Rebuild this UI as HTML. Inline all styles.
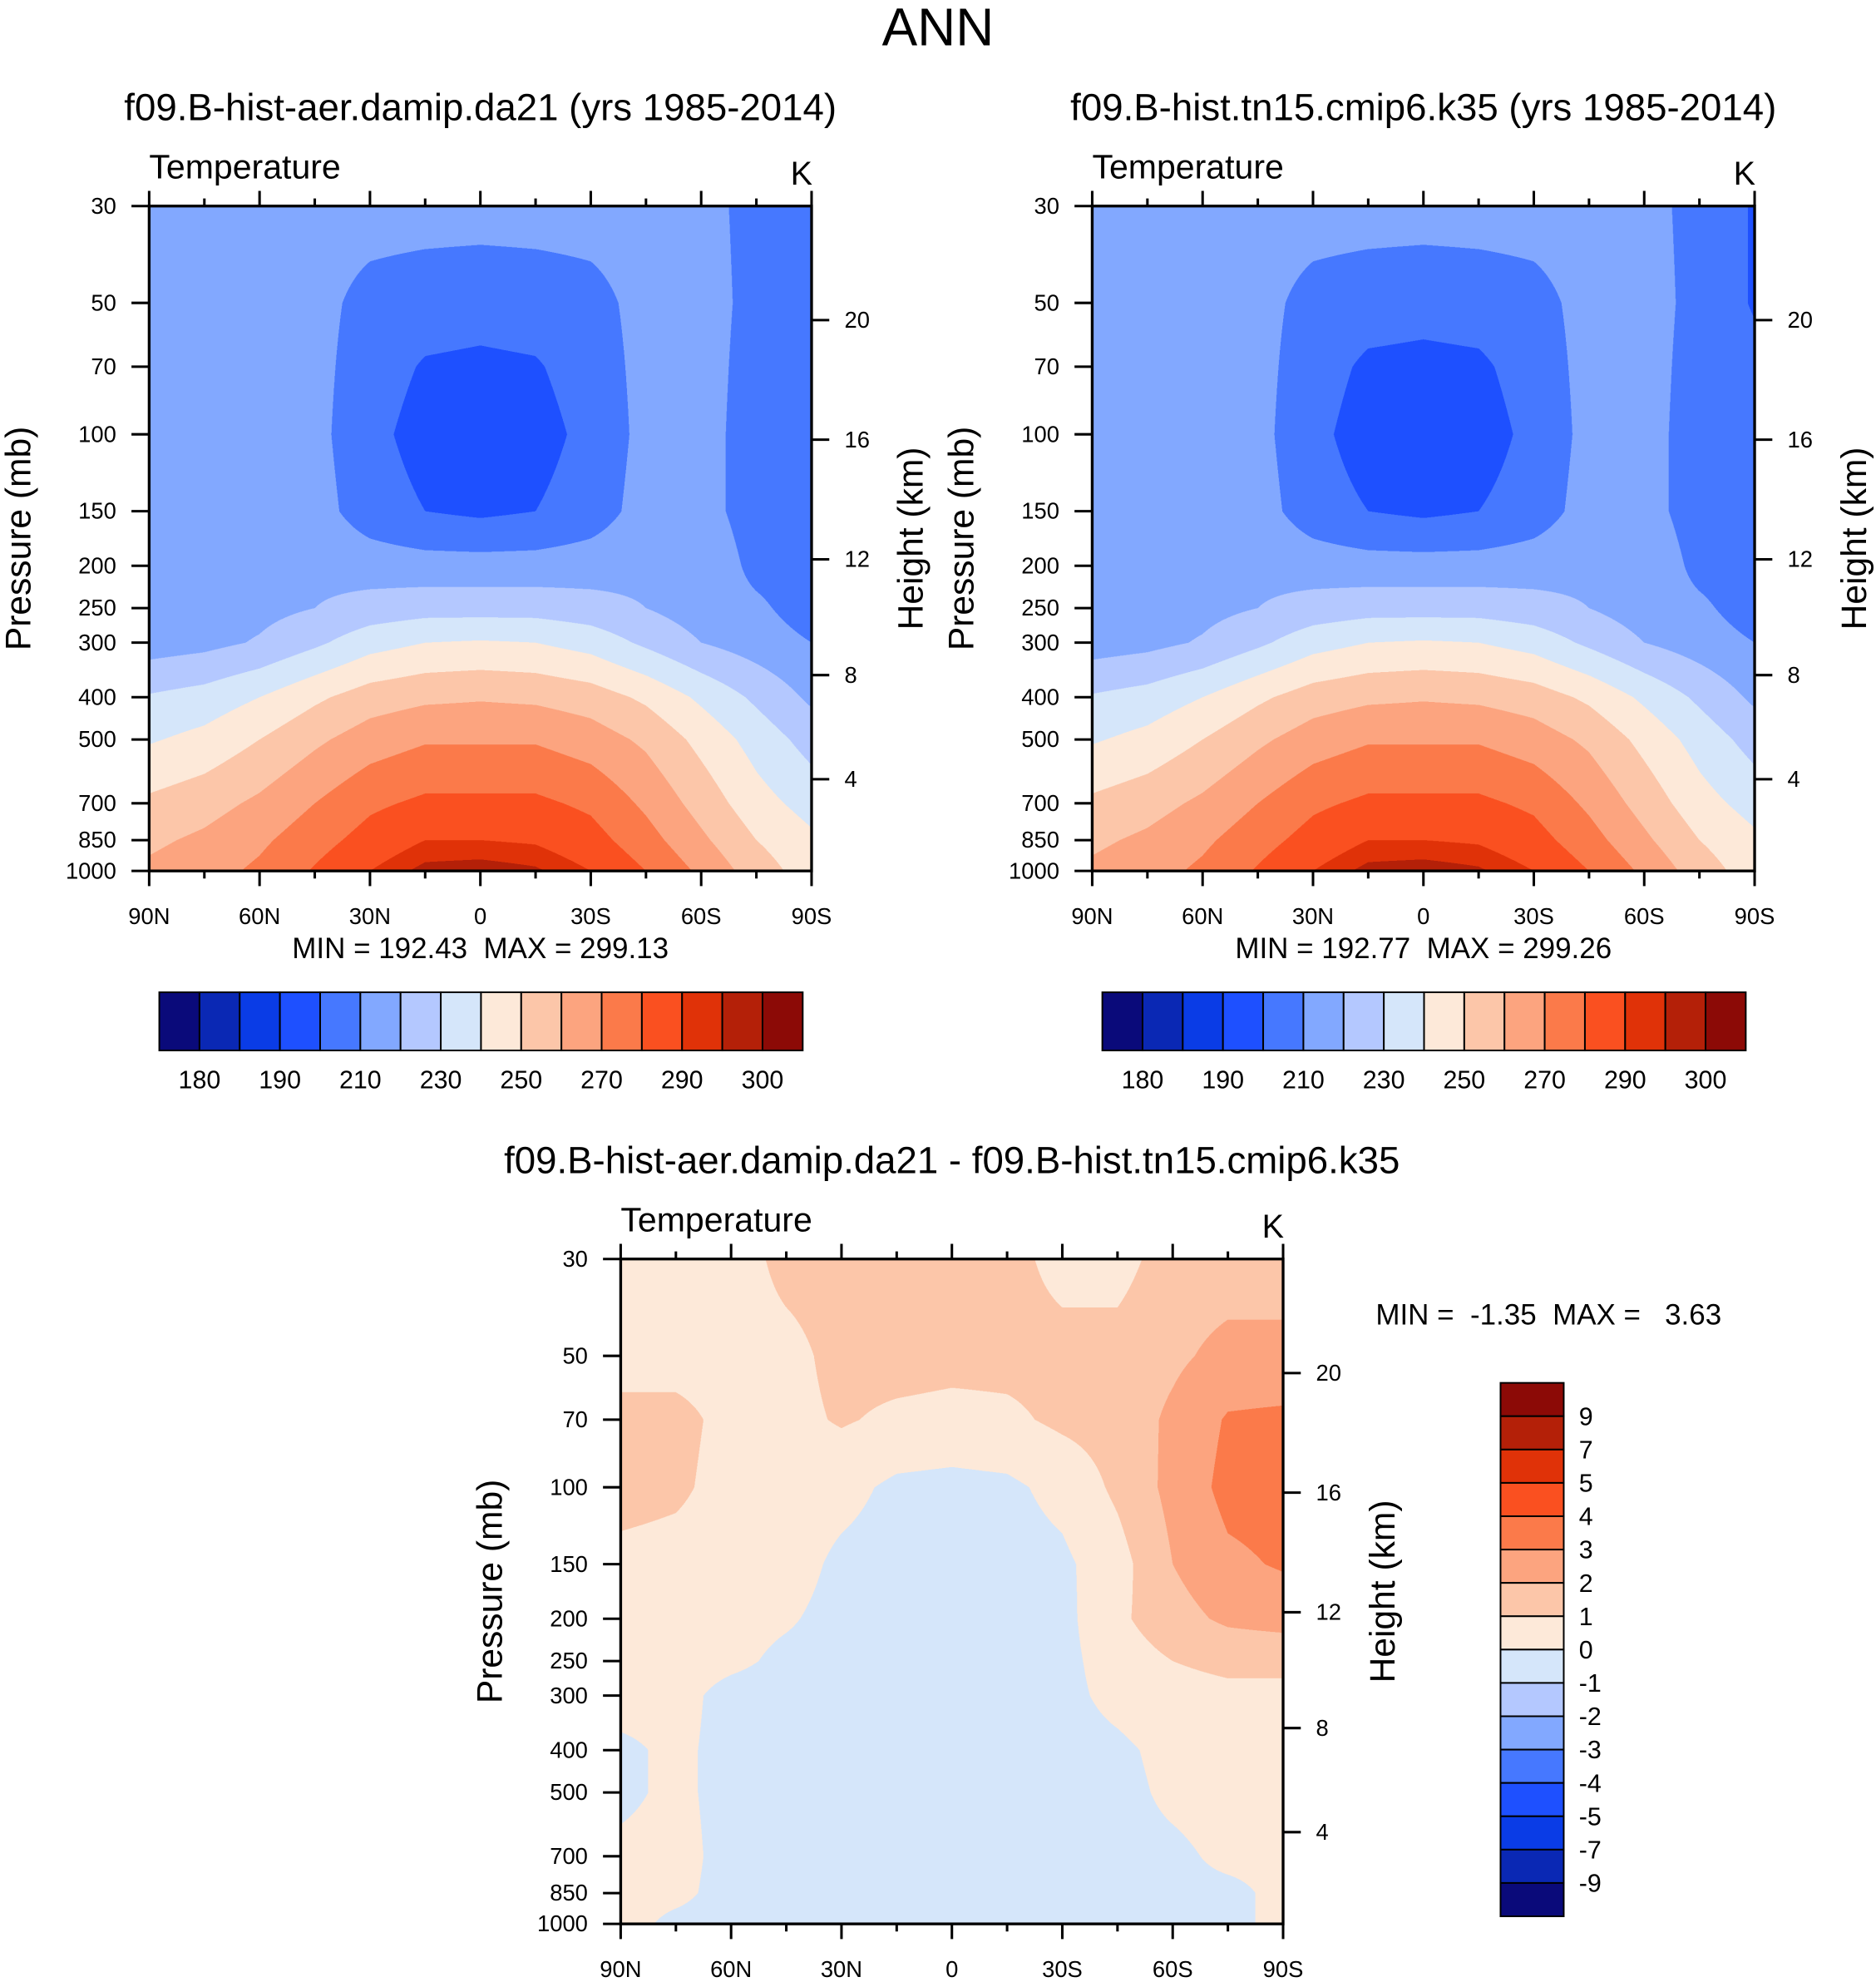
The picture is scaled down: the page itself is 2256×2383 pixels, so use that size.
<!DOCTYPE html>
<html><head><meta charset="utf-8">
<style>
html,body{margin:0;padding:0;background:#fff;width:2256px;height:2383px;overflow:hidden}
#root{position:absolute;left:0;top:0;width:1484px;height:1568px;transform:scale(1.5202,1.5198);transform-origin:0 0;font-family:"Liberation Sans",sans-serif}
canvas{position:absolute}
svg{position:absolute;left:0;top:0}
text{font-family:"Liberation Sans",sans-serif;fill:#000;white-space:pre}
</style></head>
<body>
<div id="root">
<canvas id="c1"></canvas>
<canvas id="c2"></canvas>
<canvas id="c3"></canvas>
<svg id="svg" width="1484" height="1568" viewBox="0 0 1484 1568"></svg>
</div>
<script>
// ---- data ----
const lats = [90,75,60,45,30,15,0,-15,-30,-45,-60,-75,-90];
const pres = [30,50,70,100,150,200,250,300,400,500,700,850,1000];
const tempA = [
[214,214,214,214,214,214,214,214,214,214,213,207,206],
[216,216,216,213,207,205,204,205,207,213,214,207,206],
[217,217,217,213,205,199,198,199,205,213,214,206,205],
[218,218,218,213,203,196,194,196,203,213,214,205,203],
[218,218,218,214,205,200,198,200,205,214,214,205,202],
[218,218,218,217,215,214,214,214,215,217,218,207,204],
[214,215,217,220,224,226,226,226,224,220,215,212,205],
[215,217,221,228,236,240,241,240,236,228,220,215,210],
[231,234,240,248,255,258,259,258,255,248,238,228,218],
[239,243,250,258,265,269,269,269,265,258,247,236,226],
[252,256,262,270,278,282,282,282,278,268,256,244,236],
[258,262,268,276,284,290,290,289,284,274,262,250,242],
[262,266,272,281,290,297,298,296,290,280,268,255,245]];
const tempB = [
[214,214,214,214,214,214,214,214,214,214,213,207,199],
[216,216,216,213,207,205,204,205,207,213,214,207,199],
[217,217,217,213,205,198,197,198,205,213,214,206,203],
[218,218,218,213,203,195,193,195,203,213,214,205,203],
[218,218,218,214,205,200,198,200,205,214,214,205,202],
[218,218,218,217,215,214,214,214,215,217,218,207,204],
[214,215,217,220,224,226,226,226,224,220,215,212,205],
[215,217,221,228,236,240,241,240,236,228,220,215,210],
[231,234,240,248,255,258,259,258,255,248,238,228,218],
[239,243,250,258,265,269,269,269,265,258,247,236,226],
[252,256,262,270,278,282,282,282,278,268,256,244,236],
[258,262,268,276,284,290,290,289,284,274,262,250,242],
[262,266,272,281,290,297,298,296,290,280,268,255,245]];
const diff = [
[0.5,0.5,0.5,1.3,1.4,1.4,1.4,1.3,0.7,0.6,1.5,1.5,1.5],
[0.6,0.6,0.6,0.7,1.3,1.4,1.3,1.3,1.3,1.4,1.8,2.3,2.3],
[1.3,1.3,0.7,0.7,1.1,0.8,0.7,0.8,1.2,1.4,2.2,3.1,3.2],
[1.4,1.2,0.6,0.5,0.3,-0.2,-0.3,-0.2,0.3,1.2,2.3,3.3,3.4],
[0.7,0.6,0.5,0.4,-0.2,-0.4,-0.4,-0.4,-0.2,0.6,2.0,2.8,3.1],
[0.4,0.4,0.3,0.1,-0.3,-0.4,-0.4,-0.4,-0.3,0.8,1.6,2.2,2.4],
[0.5,0.4,0.2,-0.2,-0.3,-0.4,-0.4,-0.4,-0.3,0.5,1.0,1.2,1.2],
[0.4,0.3,-0.3,-0.4,-0.4,-0.4,-0.4,-0.4,-0.3,0.3,0.7,0.8,0.8],
[-0.2,0.2,-0.3,-0.4,-0.4,-0.4,-0.4,-0.4,-0.4,-0.2,0.3,0.5,0.5],
[-0.2,0.2,-0.3,-0.4,-0.4,-0.4,-0.4,-0.4,-0.4,-0.3,0.2,0.4,0.3],
[0.2,0.3,-0.3,-0.4,-0.4,-0.4,-0.4,-0.4,-0.4,-0.3,-0.2,0.2,0.2],
[0.3,0.2,-0.3,-0.4,-0.4,-0.4,-0.4,-0.4,-0.4,-0.3,-0.2,-0.2,0.2],
[0.3,-0.2,-0.3,-0.4,-0.4,-0.4,-0.4,-0.4,-0.4,-0.3,-0.3,-0.2,0.2]];
const tLevels = [180,185,190,200,210,220,230,240,250,260,270,280,290,295,300];
const tLabels = ["180","190","210","230","250","270","290","300"];
const dLevels = [-9,-7,-5,-4,-3,-2,-1,0,1,2,3,4,5,7,9];
const palette = ["#0a0a7a","#0a28b4","#0a3ce6","#1e50ff","#4678ff","#82a8ff","#b4c8ff","#d5e6fa",
                 "#fde9d9","#fcc6a9","#fca47f","#fb7a4a","#fa5020","#e03208","#b42008","#8c0a06"];
const pTicks = [30,50,70,100,150,200,250,300,400,500,700,850,1000];
const hTicks = [4,8,12,16,20];
const latTicks = [90,60,30,0,-30,-60,-90];
const latLabels = ["90N","60N","30N","0","30S","60S","90S"];

// ---- helpers ----
const NS="http://www.w3.org/2000/svg";
const svg=document.getElementById('svg');
function el(tag,attrs,parent){const e=document.createElementNS(NS,tag);for(const k in attrs)e.setAttribute(k,attrs[k]);(parent||svg).appendChild(e);return e;}
function txt(s,x,y,size,anchor,name,extra){const t=el('text',Object.assign({x:x,y:y,'font-size':size,'text-anchor':anchor||'middle'},extra||{}));t.textContent=s;return t;}
function rgb(h){return [parseInt(h.slice(1,3),16),parseInt(h.slice(3,5),16),parseInt(h.slice(5,7),16)];}
const palRGB=palette.map(rgb);
function colorIdx(v,levels){for(let i=0;i<levels.length;i++){if(v<levels[i])return i;}return levels.length;}
function pToHeightP(z){return z<11?1013.25*Math.pow(1-0.0065*z*1000/288.15,5.2559):226.32*Math.exp(-(z-11)/6.3416);}

function drawPanel(cid,X,Y,W,H,grid,levels,title,name){
  const yOfP=p=>Y+H*Math.log10(p/30)/Math.log10(1000/30);
  const xOfLat=l=>X+W*(90-l)/180;
  const c=document.getElementById(cid);const R=3;
  c.style.left=X+'px';c.style.top=Y+'px';c.style.width=W+'px';c.style.height=H+'px';
  c.width=W*R;c.height=H*R;
  const ctx=c.getContext('2d');const img=ctx.createImageData(c.width,c.height);
  const lp=pres.map(p=>Math.log(p));
  for(let j=0;j<c.height;j++){
    const p=30*Math.pow(1000/30,(j+0.5)/c.height);const l=Math.log(p);
    let k=0;while(k<lp.length-2&&l>lp[k+1])k++;
    const fy=Math.min(1,Math.max(0,(l-lp[k])/(lp[k+1]-lp[k])));
    for(let i=0;i<c.width;i++){
      const lat=90-180*(i+0.5)/c.width;const fi=(90-lat)/15;
      let m=Math.min(lats.length-2,Math.floor(fi));const fx=fi-m;
      const v=(grid[k][m]*(1-fx)+grid[k][m+1]*fx)*(1-fy)+(grid[k+1][m]*(1-fx)+grid[k+1][m+1]*fx)*fy;
      const col=palRGB[colorIdx(v,levels)];const o=(j*c.width+i)*4;
      img.data[o]=col[0];img.data[o+1]=col[1];img.data[o+2]=col[2];img.data[o+3]=255;
    }
  }
  ctx.putImageData(img,0,0);
  const g=el('g',{});
  const fr=el('rect',{x:X,y:Y,width:W,height:H,fill:'none',stroke:'#000','stroke-width':2.2},g);
  
  for(let l=90;l>=-90;l-=15){const x=xOfLat(l);const major=(l%30===0);const len=major?12:6;
    el('line',{x1:x,y1:Y,x2:x,y2:Y-len,stroke:'#000','stroke-width':2},g);
    el('line',{x1:x,y1:Y+H,x2:x,y2:Y+H+len,stroke:'#000','stroke-width':2},g);}
  latTicks.forEach((l,i)=>{txt(latLabels[i],xOfLat(l),Y+H+42,18,'middle','x-tick-label');});
  pTicks.forEach(p=>{const y=yOfP(p);el('line',{x1:X,y1:y,x2:X-14,y2:y,stroke:'#000','stroke-width':2},g);
    txt(String(p),X-26,y+6,18,'end','y-tick-label');});
  hTicks.forEach(z=>{const y=yOfP(pToHeightP(z));el('line',{x1:X+W,y1:y,x2:X+W+14,y2:y,stroke:'#000','stroke-width':2},g);
    txt(String(z),X+W+26,y+6,18,'start','height-tick-label');});
  txt('Temperature',X,Y-22,27,'start','variable-label');
  txt('K',X+W-8,Y-17,26,'middle','units-label');
  txt('Pressure (mb)',0,0,28,'middle','y-axis-title',{transform:`translate(${X-94},${Y+H/2}) rotate(-90)`});
  txt('Height (km)',0,0,28,'middle','right-axis-title',{transform:`translate(${X+W+88},${Y+H/2}) rotate(-90)`});
  txt(title,X+W/2,Y-68,30,'middle','panel-title');
}
function hColorbar(X,Y,W,H,name){
  const g=el('g',{});
  const n=palette.length;const bw=W/n;
  palette.forEach((c,i)=>{const r=el('rect',{x:X+i*bw,y:Y,width:bw,height:H,fill:c,stroke:'#000','stroke-width':1.3},g);
    });
  let li=0;tLevels.forEach((v,i)=>{if(i%2===0&&li<tLabels.length){txt(tLabels[li],X+(i+1)*bw,Y+H+30,20,'middle','colorbar-label');li++;}});
}
function vColorbar(X,Y,W,H,name){
  const g=el('g',{});
  const n=palette.length;const bh=H/n;
  for(let i=0;i<n;i++){const r=el('rect',{x:X,y:Y+i*bh,width:W,height:bh,fill:palette[n-1-i],stroke:'#000','stroke-width':1.3},g);
    }
  for(let i=0;i<dLevels.length;i++){const v=dLevels[dLevels.length-1-i];txt(String(v),X+W+12,Y+(i+1)*bh+7,20,'start','colorbar-label');}
}

txt('ANN',742,36,42,'middle','figure-title');
drawPanel('c1',118,163,524,526,tempA,tLevels,'f09.B-hist-aer.damip.da21 (yrs 1985-2014)','panel-test');
drawPanel('c2',864,163,524,526,tempB,tLevels,'f09.B-hist.tn15.cmip6.k35 (yrs 1985-2014)','panel-control');
drawPanel('c3',491,996,524,526,diff,dLevels,'f09.B-hist-aer.damip.da21 - f09.B-hist.tn15.cmip6.k35','panel-difference');
txt('MIN = 192.43  MAX = 299.13',380,758,23,'middle','minmax-label-1');
txt('MIN = 192.77  MAX = 299.26',1126,758,23,'middle','minmax-label-2');
txt('MIN =  -1.35  MAX =   3.63',1225,1048,23,'middle','minmax-label-diff');
hColorbar(126,785,509,46,'colorbar-1');
hColorbar(872,785,509,46,'colorbar-2');
vColorbar(1187,1094,50,422,'colorbar-diff');
</script>
</body></html>
